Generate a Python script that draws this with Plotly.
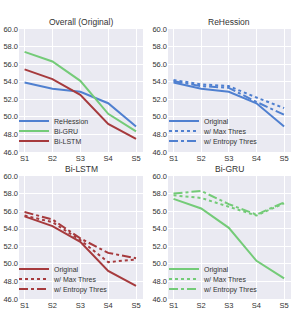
import plotly.graph_objects as go

stages = ["S1", "S2", "S3", "S4", "S5"]

# Overall (Original)
rehession_orig = [53.9, 53.2, 52.85, 51.55, 48.9]
bigru_orig = [57.4, 56.3, 54.1, 50.35, 48.35]
bilstm_orig = [55.4, 54.3, 52.5, 49.2, 47.5]

# ReHession thresholds
rehession_max = [54.2, 53.7, 53.5, 52.2, 51.0]
rehession_ent = [54.05, 53.5, 53.3, 51.7, 50.25]

# Bi-LSTM thresholds
bilstm_max = [55.5, 54.75, 52.7, 50.2, 50.5]
bilstm_ent = [55.9, 55.05, 52.9, 51.25, 50.65]

# Bi-GRU thresholds
bigru_max = [57.8, 57.5, 56.5, 55.5, 56.9]
bigru_ent = [58.0, 58.3, 56.8, 55.6, 57.0]

BLUE = "#5080D0"
GREEN = "#74CB78"
RED = "#A63A3D"
FONT = "Liberation Sans"
TXT = "#333333"
W, H = 302, 324

fig = go.Figure()

xdom = [[19/W, 143/W], [168/W, 291/W]]
ydom_top = [(H-152)/H, (H-29)/H]
ydom_bot = [(H-299)/H, (H-176)/H]

panels = [
    ("", xdom[0], ydom_top, "Overall (Original)", 14, [121, 131, 141],
     [("ReHession", rehession_orig, BLUE, "solid"),
      ("Bi-GRU", bigru_orig, GREEN, "solid"),
      ("Bi-LSTM", bilstm_orig, RED, "solid")]),
    ("2", xdom[1], ydom_top, "ReHession", 164, [121, 131, 141],
     [("Original", rehession_orig, BLUE, "solid"),
      ("w/ Max Thres", rehession_max, BLUE, "dot"),
      ("w/ Entropy Thres", rehession_ent, BLUE, "dashdot")]),
    ("3", xdom[0], ydom_bot, "Bi-LSTM", 14, [269, 279, 289],
     [("Original", bilstm_orig, RED, "solid"),
      ("w/ Max Thres", bilstm_max, RED, "dot"),
      ("w/ Entropy Thres", bilstm_ent, RED, "dashdot")]),
    ("4", xdom[1], ydom_bot, "Bi-GRU", 164, [269, 279, 289],
     [("Original", bigru_orig, GREEN, "solid"),
      ("w/ Max Thres", bigru_max, GREEN, "dot"),
      ("w/ Entropy Thres", bigru_ent, GREEN, "dashdot")]),
]

layout = dict(
    width=W, height=H,
    margin=dict(l=0, r=0, t=0, b=0, autoexpand=False),
    paper_bgcolor="white",
    plot_bgcolor="#EAEAF2",
    font=dict(family=FONT, size=7, color=TXT),
    showlegend=True,
    annotations=[],
)

leg_idx = 0
for suffix, xd, yd, title, leg_x, leg_ys, series in panels:
    xa = "x" + suffix
    ya = "y" + suffix
    for (name, vals, color, dash), ly in zip(series, leg_ys):
        leg_idx += 1
        leg = "legend" if leg_idx == 1 else "legend%d" % leg_idx
        fig.add_trace(go.Scatter(
            x=list(range(len(stages))), y=vals, mode="lines", name=name,
            line=dict(color=color, width=2, dash=dash),
            xaxis=xa, yaxis=ya, legend=leg, showlegend=True,
        ))
        layout[leg] = dict(
            x=leg_x / W, y=(H - ly) / H, xanchor="left", yanchor="middle",
            bgcolor="rgba(0,0,0,0)", font=dict(size=7, color=TXT),
            borderwidth=0, itemwidth=30, visible=True,
        )
    layout["xaxis" + suffix] = dict(
        domain=xd, anchor=ya, range=[-0.2, 4.25],
        tickmode="array", tickvals=list(range(len(stages))), ticktext=stages,
        showgrid=True, gridcolor="white", gridwidth=1, zeroline=False,
        showline=False, ticks="", tickfont=dict(size=7.5, color=TXT),
        automargin=False,
    )
    layout["yaxis" + suffix] = dict(
        domain=yd, anchor=xa, range=[46, 60], dtick=2, tickformat=".1f",
        showgrid=True, gridcolor="white", gridwidth=1, zeroline=False,
        showline=False, ticks="", tickfont=dict(size=7.5, color=TXT),
        automargin=False,
    )
    layout["annotations"].append(dict(
        text=title, x=(xd[0] + xd[1]) / 2, y=yd[1], xref="paper", yref="paper",
        xanchor="center", yanchor="bottom", yshift=0, showarrow=False,
        font=dict(size=8.5, color=TXT, family=FONT),
    ))

fig.update_layout(**layout)
fig.write_html(
    "out.html",
    config={"displayModeBar": False},
    post_script="document.body.style.margin='0';document.body.style.padding='0';",
)
